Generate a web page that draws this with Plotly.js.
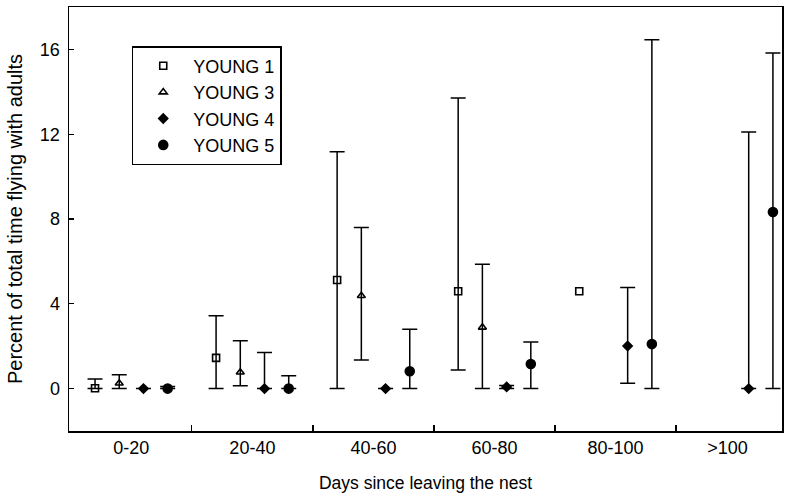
<!DOCTYPE html>
<html>
<head>
<meta charset="utf-8">
<script src="https://cdn.plot.ly/plotly-3.0.1.min.js"></script>
<style>html,body{margin:0;padding:0;background:#fff;}#chart{width:790px;height:493px;}</style>
</head>
<body>
<div id="chart"></div>
<script>
// Day bins (start of each 20-day bin) and labels
const binStarts = [0, 20, 40, 60, 80, 100];
const binLabels = ["0-20", "20-40", "40-60", "60-80", "80-100", ">100"];
const binCenters = [10, 30, 50, 70, 90, 108.5];
const binEdges = [20, 40, 60, 80, 100];

// YOUNG 1 (bins 0-20 .. 80-100)
const y1_bins  = [0, 1, 2, 3, 4];
const y1_mean  = [0.02, 1.45, 5.12, 4.59, 4.59];
const y1_upper = [0.45, 3.44, 11.17, 13.71, null];
const y1_lower = [0.0, 0.0, 0.0, 0.88, null];

// YOUNG 3 (bins 0-20 .. 60-80)
const y3_bins  = [0, 1, 2, 3];
const y3_mean  = [0.25, 0.77, 4.38, 2.89];
const y3_upper = [0.65, 2.26, 7.6, 5.86];
const y3_lower = [0.0, 0.13, 1.35, 0.0];

// YOUNG 4 (all bins)
const y4_bins  = [0, 1, 2, 3, 4, 5];
const y4_mean  = [0.0, 0.0, 0.0, 0.08, 2.01, 0.0];
const y4_upper = [0.0, 1.70, 0.0, 0.15, 4.77, 12.1];
const y4_lower = [0.0, 0.0, 0.0, 0.0, 0.25, 0.0];

// YOUNG 5 (all bins)
const y5_bins  = [0, 1, 2, 3, 4, 5];
const y5_mean  = [0.0, 0.0, 0.82, 1.16, 2.1, 8.33];
const y5_upper = [0.1, 0.61, 2.8, 2.2, 16.45, 15.83];
const y5_lower = [0.0, 0.0, 0.0, 0.0, 0.0, 0.0];

const yTicks = [0, 4, 8, 12, 16];

function mk(name, bins, offset, mean, upper, lower, symbol, size) {
  const x = bins.map(b => binStarts[b] + offset);
  const plus = mean.map((m, i) => upper[i] === null ? NaN : upper[i] - m);
  const minus = mean.map((m, i) => lower[i] === null ? NaN : m - lower[i]);
  return {
    type: 'scatter', mode: 'markers', name: name, x: x, y: mean,
    legendgroup: name,
    marker: {symbol: symbol, size: size, color: '#000', line: {color: '#000', width: 1.6}},
    error_y: {type: 'data', symmetric: false, array: plus, arrayminus: minus,
              color: '#000', thickness: 1.5, width: 7.5}
  };
}

const traces = [
  mk('YOUNG 1', y1_bins, 4, y1_mean, y1_upper, y1_lower, 'square-open', 7),
  mk('YOUNG 3', y3_bins, 8, y3_mean, y3_upper, y3_lower, 'triangle-up-open', 7),
  mk('YOUNG 4', y4_bins, 12, y4_mean, y4_upper, y4_lower, 'diamond', 7),
  mk('YOUNG 5', y5_bins, 16, y5_mean, y5_upper, y5_lower, 'circle', 9)
];

const fam = 'Liberation Sans, Arial, sans-serif';
const f = s => ({family: fam, size: s, color: '#000'});

const layout = {
  width: 790, height: 493,
  margin: {l: 69, r: 8, t: 7, b: 62},
  paper_bgcolor: '#fff', plot_bgcolor: '#fff',
  font: f(16),
  showlegend: true,
  legend: {
    x: 0.088, y: 0.908, xanchor: 'left', yanchor: 'top',
    bordercolor: '#000', borderwidth: 1.5, bgcolor: '#fff',
    font: f(18),
    itemwidth: 50, tracegroupgap: 5, traceorder: 'normal'
  },
  xaxis: {
    range: [-0.3, 117.5],
    tickmode: 'array', tickvals: binCenters, ticktext: binLabels,
    ticks: '', showgrid: false, zeroline: false,
    showline: true, linecolor: '#000', linewidth: 1.5, mirror: true,
    tickfont: f(18),
    minor: {tickmode: 'array', tickvals: binEdges, ticks: 'inside', ticklen: 6, tickcolor: '#000', tickwidth: 1.2, showgrid: false},
    title: {text: 'Days since leaving the nest', font: f(17.5), standoff: 20}
  },
  yaxis: {
    range: [-2, 18],
    tickmode: 'array', tickvals: yTicks, ticktext: yTicks.map(String),
    ticks: 'inside', ticklen: 5, tickwidth: 1.2, tickcolor: '#000',
    showgrid: false, zeroline: false,
    showline: true, linecolor: '#000', linewidth: 1.5, mirror: true,
    tickfont: f(18), ticklabelstandoff: 4,
    title: {text: 'Percent of total time flying with adults', font: f(20), standoff: 12}
  }
};

Plotly.newPlot('chart', traces, layout, {displayModeBar: false, staticPlot: true});
</script>
</body>
</html>
